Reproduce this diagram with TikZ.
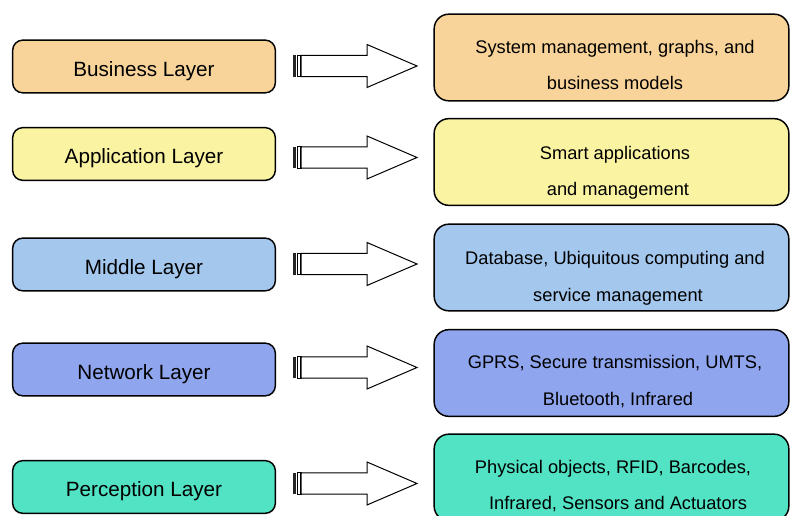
\documentclass[tikz,border=0pt]{standalone}
\usepackage{fontspec}
\setmainfont{Liberation Sans}
\definecolor{cbus}{RGB}{248,212,154}
\definecolor{capp}{RGB}{250,243,162}
\definecolor{cmid}{RGB}{164,199,238}
\definecolor{cnet}{RGB}{143,165,237}
\definecolor{cper}{RGB}{82,226,196}
\begin{document}
\begin{tikzpicture}[x=0.75pt,y=-0.75pt,
  lbox/.style={draw=black, line width=1.1pt, rounded corners=7.5pt,
    minimum width=197pt, minimum height=39.5pt, inner sep=0pt,
    text height=14.6pt, text depth=0pt,
    font=\fontsize{15.5}{18}\selectfont},
  rbox/.style={draw=black, line width=1.1pt, rounded corners=11pt,
    minimum width=266pt, minimum height=65pt, inner sep=0pt},
  rtext/.style={font=\fontsize{13.7}{16}\selectfont, inner sep=0pt, anchor=base},
  arr/.style={draw=black, line width=0.75pt, fill=white, line join=miter}]
\useasboundingbox (0,0) rectangle (790,516);
\clip (0,0) rectangle (790,516);

% left boxes
\node[lbox, fill=cbus] (bl) at (144,66.5) {Business Layer};
\node[lbox, fill=capp] (al) at (144,154) {Application Layer};
\node[lbox, fill=cmid] (ml) at (144,264.5) {Middle Layer};
\node[lbox, fill=cnet] (nl) at (144,369.5) {Network Layer};
\node[lbox, fill=cper] (pl) at (144,487) {Perception Layer};

% right boxes
\node[rbox, fill=cbus] (br) at (611.5,57.5) {};
\node[rbox, fill=capp] (ar) at (611.5,162) {};
\node[rbox, fill=cmid] (mr) at (611.5,267.5) {};
\node[rbox, fill=cnet] (nr) at (611.5,373) {};
\node[rbox, fill=cper] (pr) at (611.5,477.5) {};

% right texts
\node[rtext] (bt1) at (615,53.3) {System management, graphs, and};
\node[rtext] (bt2) at (615,89.3) {business models};
\node[rtext] (at1) at (615,159.3) {Smart applications};
\node[rtext] (at2) at (618,195.3) {and management};
\node[rtext] (mt1) at (615,264.3) {Database, Ubiquitous computing and};
\node[rtext] (mt2) at (618,301.3) {service management};
\node[rtext] (nt1) at (615,368.3) {GPRS, Secure transmission, UMTS,};
\node[rtext] (nt2) at (618,405.3) {Bluetooth, Infrared};
\node[rtext] (pt1) at (613,473.5) {Physical objects, RFID, Barcodes,};
\node[rtext] (pt2) at (618,510) {Infrared, Sensors and Actuators};

% arrows
\foreach \n/\c in {b/66, a/157.5, m/264, n/367.5, p/483.5} {
  \coordinate (\n tail) at (293,\c);
  \begin{scope}[shift={(\n tail)}]
    \fill[black!85] (-0.3,-10.7) rectangle (3.3,10.7);
    \draw[line width=0.9pt] (4.6,-10.7) rectangle (8,10.7);
    \draw[arr] (8,-10.7) -- (74,-10.7) -- (74,-21.5) -- (124,0)
      -- (74,21.5) -- (74,10.7) -- (8,10.7) -- cycle;
  \end{scope}
}
\end{tikzpicture}
\end{document}
